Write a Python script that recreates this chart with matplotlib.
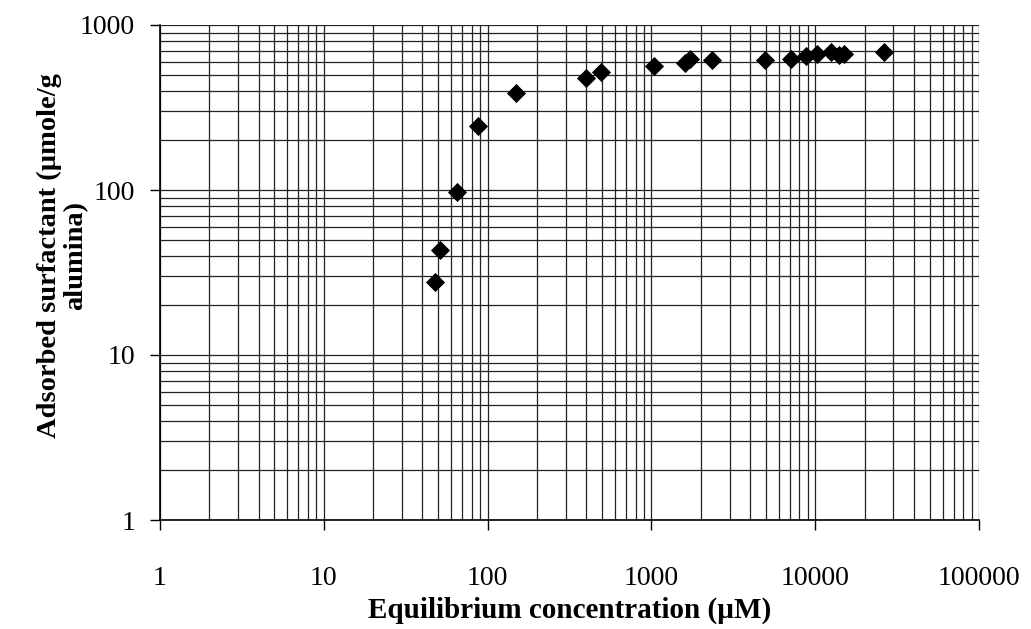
import matplotlib
matplotlib.use("Agg")
import matplotlib.pyplot as plt
from matplotlib.ticker import LogLocator, NullFormatter, FixedLocator, FixedFormatter

# Data
conc = [47.5, 51, 64.7, 87, 150, 396, 489, 1030, 1600, 1720, 2350, 4950, 7150, 8800, 10300, 12500, 14000, 15000, 26300]
adsorbed = [27.7, 43, 97, 244, 387, 477, 519, 564, 590, 620, 614, 614, 620, 650, 670, 685, 660, 670, 685]

x_ticks = [1, 10, 100, 1000, 10000, 100000]
x_labels = ["1", "10", "100", "1000", "10000", "100000"]
y_ticks = [1, 10, 100, 1000]
y_labels = ["1", "10", "100", "1000"]

plt.rcParams['font.family'] = ['Liberation Serif', 'DejaVu Serif']

fig = plt.figure(figsize=(10.31, 6.29), dpi=100)
ax = fig.add_axes([160/1031, 1-520/629, (979-160)/1031, (520-25)/629])

ax.set_xscale('log')
ax.set_yscale('log')
ax.set_xlim(1, 100000)
ax.set_ylim(1, 1000)

ax.xaxis.set_major_locator(FixedLocator(x_ticks))
ax.xaxis.set_major_formatter(FixedFormatter(x_labels))
ax.yaxis.set_major_locator(FixedLocator(y_ticks))
ax.yaxis.set_major_formatter(FixedFormatter(y_labels))
ax.xaxis.set_minor_locator(LogLocator(base=10, subs=range(2, 10), numticks=20))
ax.yaxis.set_minor_locator(LogLocator(base=10, subs=range(2, 10), numticks=20))
ax.xaxis.set_minor_formatter(NullFormatter())
ax.yaxis.set_minor_formatter(NullFormatter())

ax.grid(True, which='both', color='#222222', linewidth=0.9)
ax.set_axisbelow(True)

ax.scatter(conc, adsorbed, marker='D', s=95, color='black', zorder=3, linewidths=0)

for s in ['top', 'right']:
    ax.spines[s].set_visible(False)
ax.spines['left'].set_linewidth(1.2)
ax.spines['bottom'].set_linewidth(1.2)

ax.tick_params(axis='both', which='major', direction='out', length=7, width=1, labelsize=20)
ax.tick_params(axis='both', which='minor', length=0)
ax.tick_params(axis='x', which='major', pad=26)
ax.tick_params(axis='y', which='major', pad=11)

ax.set_xlabel("Equilibrium concentration (\u00b5M)", fontsize=21, fontweight='bold', labelpad=4)
ax.set_ylabel("Adsorbed surfactant (\u00b5mole/g\nalumina)", fontsize=20.5, fontweight='bold', linespacing=1.05)
ax.yaxis.set_label_coords(-0.088, 0.535)

fig.savefig("out.png", dpi=100)
